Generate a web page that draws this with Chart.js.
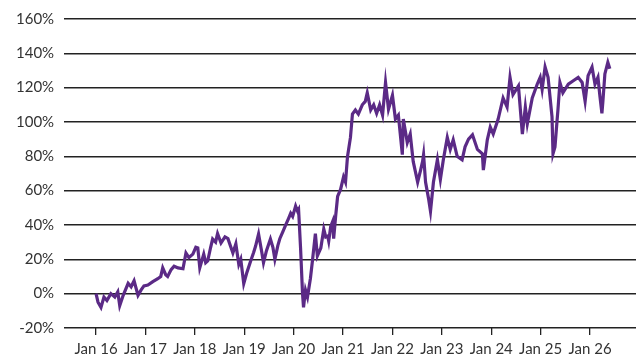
<!DOCTYPE html>
<html>
<head>
<meta charset="utf-8">
<script src="https://cdn.jsdelivr.net/npm/chart.js@4.4.1/dist/chart.umd.min.js"></script>
<style>
  body { margin: 0; background: #fff; }
  #wrap { width: 642px; height: 359px; }
</style>
</head>
<body>
<div id="wrap"><canvas id="perf"></canvas></div>
<script>
// decimal years of the readings
const years = [
  2016.00, 2016.04, 2016.10, 2016.16, 2016.22, 2016.30, 2016.38, 2016.44, 2016.48, 2016.55,
  2016.65, 2016.71, 2016.77, 2016.85, 2016.91, 2016.97, 2017.05, 2017.15, 2017.25, 2017.31,
  2017.35, 2017.41, 2017.45, 2017.52, 2017.58, 2017.66, 2017.76, 2017.82, 2017.88, 2017.96,
  2018.02, 2018.06, 2018.10, 2018.18, 2018.22, 2018.26, 2018.32, 2018.36, 2018.42, 2018.46,
  2018.53, 2018.61, 2018.67, 2018.73, 2018.77, 2018.83, 2018.89, 2018.93, 2018.99, 2019.05,
  2019.13, 2019.19, 2019.23, 2019.29, 2019.35, 2019.39, 2019.45, 2019.53, 2019.58, 2019.62,
  2019.68, 2019.72, 2019.78, 2019.84, 2019.90, 2019.94, 2019.98, 2020.04, 2020.08, 2020.10,
  2020.14, 2020.18, 2020.20, 2020.24, 2020.28, 2020.34, 2020.38, 2020.44, 2020.48, 2020.55,
  2020.61, 2020.65, 2020.69, 2020.71, 2020.75, 2020.79, 2020.81, 2020.85, 2020.89, 2020.95,
  2021.01, 2021.05, 2021.09, 2021.15, 2021.19, 2021.25, 2021.31, 2021.39, 2021.45, 2021.49,
  2021.56, 2021.62, 2021.68, 2021.74, 2021.80, 2021.86, 2021.92, 2022.00, 2022.06, 2022.12,
  2022.20, 2022.22, 2022.30, 2022.36, 2022.42, 2022.51, 2022.57, 2022.61, 2022.63, 2022.67,
  2022.73, 2022.77, 2022.83, 2022.91, 2022.97, 2023.03, 2023.11, 2023.17, 2023.23, 2023.31,
  2023.41, 2023.47, 2023.54, 2023.62, 2023.72, 2023.82, 2023.84, 2023.92, 2023.98, 2024.04,
  2024.14, 2024.24, 2024.32, 2024.38, 2024.44, 2024.55, 2024.63, 2024.69, 2024.73, 2024.83,
  2024.93, 2024.99, 2025.03, 2025.09, 2025.15, 2025.23, 2025.25, 2025.29, 2025.33, 2025.35,
  2025.39, 2025.45, 2025.56, 2025.66, 2025.76, 2025.84, 2025.90, 2025.96, 2026.04, 2026.10,
  2026.16, 2026.20, 2026.24, 2026.26, 2026.30, 2026.36, 2026.40
];

// cumulative return, %
const returns = [
  0, -5, -8, -2, -4, 0, -2, 1, -7, -1,
  6, 4, 7.5, -1, 2, 4.5, 5, 7, 8.7, 10,
  15, 11, 10, 14, 16, 15, 14.5, 23.7, 21, 23,
  27, 26.6, 15, 23, 18, 19, 27, 31.8, 30, 35,
  29.5, 33, 32, 27, 23.7, 29, 17, 20, 5.8, 12,
  19, 24, 27.7, 34.7, 25, 18, 25, 31.8, 27, 20,
  28, 32, 36, 40, 44, 46.8, 45, 51, 48, 49,
  26.6, 0, -8, 2, -2, 9, 19, 35, 22, 26.6,
  37.6, 33, 33.5, 30.6, 39, 42, 32, 45, 56.6, 60.7,
  68, 65, 79.8, 91, 104.6, 107, 104.6, 110, 112, 117,
  107, 110, 105, 110, 104, 123, 107.5, 115.6, 101.7, 104,
  81, 101.7, 88, 93, 77, 65, 72, 77, 81, 65,
  55.5, 48, 65, 78, 66.5, 78, 91, 84, 89.6, 80,
  78, 85.5, 90, 92.5, 84, 81.5, 72, 89.6, 97, 93,
  101.7, 114, 108.7, 126, 116, 121, 93, 108.7, 99, 114,
  122, 126, 119, 132, 126, 103, 81.5, 85.5, 100, 107,
  123, 117, 122, 124, 126, 123, 112, 127, 132, 122,
  126, 115, 105, 112, 128, 134.7, 131
];

const tickYears = [2016, 2017, 2018, 2019, 2020, 2021, 2022, 2023, 2024, 2025, 2026];
const tickLabels = ["Jan 16", "Jan 17", "Jan 18", "Jan 19", "Jan 20", "Jan 21", "Jan 22", "Jan 23", "Jan 24", "Jan 25", "Jan 26"];

const points = years.map((y, i) => ({ x: y, y: returns[i] }));

new Chart(document.getElementById("perf"), {
  type: "line",
  data: {
    datasets: [{
      data: points,
      borderColor: "#5b2a86",
      borderWidth: 3.2,
      pointRadius: 0,
      tension: 0,
      fill: false
    }]
  },
  options: {
    responsive: true,
    maintainAspectRatio: false,
    animation: false,
    layout: { padding: { left: 6, right: 6, top: 2, bottom: -4 } },
    plugins: { legend: { display: false }, tooltip: { enabled: false } },
    scales: {
      x: {
        type: "linear",
        min: 2015.354,
        max: 2026.93,
        afterBuildTicks: (scale) => {
          scale.ticks = tickYears.map(v => ({ value: v }));
        },
        border: { display: false },
        grid: { drawOnChartArea: false, drawTicks: true, tickLength: 7, color: "#222", lineWidth: 1.3 },
        ticks: {
          autoSkip: false,
          maxRotation: 0,
          padding: 6,
          color: "#333",
          font: { family: "Lato", size: 15, lineHeight: 1.07 },
          callback: (v) => tickLabels[tickYears.indexOf(v)]
        }
      },
      y: {
        min: -20,
        max: 160,
        border: { display: false },
        grid: { drawTicks: false, color: "#222", lineWidth: 1.5 },
        ticks: {
          stepSize: 20,
          padding: 10,
          color: "#333",
          font: { family: "Lato", size: 15 },
          callback: (v) => v + "%"
        }
      }
    }
  }
});
</script>
</body>
</html>
